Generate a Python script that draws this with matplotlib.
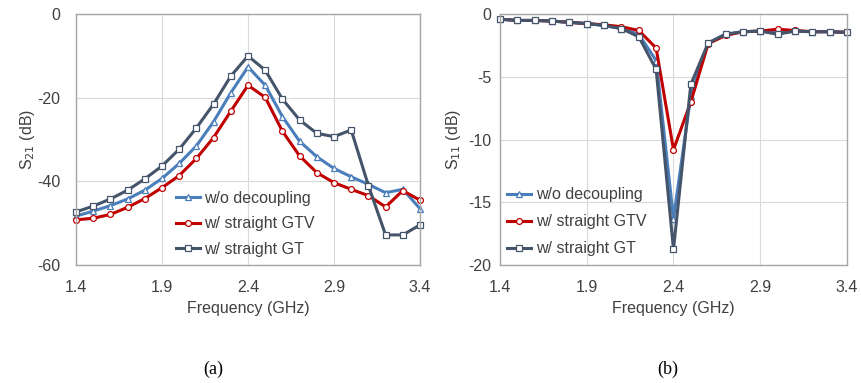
import matplotlib
matplotlib.use("Agg")
from matplotlib import pyplot as plt

plt.rcParams['font.family'] = ['Liberation Sans', 'DejaVu Sans']
plt.rcParams['axes.unicode_minus'] = False

freq = [1.4, 1.5, 1.6, 1.7, 1.8, 1.9, 2.0, 2.1, 2.2, 2.3, 2.4,
        2.5, 2.6, 2.7, 2.8, 2.9, 3.0, 3.1, 3.2, 3.3, 3.4]

# S21 (dB)
s21_wo = [-48.3, -47.1, -45.8, -44.2, -42.1, -39.3, -35.7, -31.5, -25.7, -18.8, -12.6,
          -17.0, -24.5, -30.4, -34.1, -36.9, -38.9, -40.7, -42.7, -41.9, -46.5]
s21_gtv = [-49.2, -48.8, -47.9, -46.2, -44.1, -41.5, -38.6, -34.5, -29.5, -23.2, -17.0,
           -19.9, -28.0, -33.9, -37.9, -40.3, -41.9, -43.4, -46.1, -42.2, -44.5]
s21_gt = [-47.3, -45.9, -44.2, -42.1, -39.4, -36.3, -32.3, -27.2, -21.5, -14.8, -10.0,
          -13.4, -20.3, -25.3, -28.5, -29.3, -27.7, -41.0, -52.8, -52.8, -50.4]

# S11 (dB)
s11_wo = [-0.4, -0.5, -0.5, -0.55, -0.65, -0.75, -0.9, -1.15, -1.6, -3.7, -16.3,
          -6.5, -2.3, -1.6, -1.4, -1.35, -1.5, -1.35, -1.4, -1.4, -1.45]
s11_gtv = [-0.4, -0.5, -0.5, -0.55, -0.65, -0.75, -0.85, -1.0, -1.3, -2.7, -10.8,
           -7.0, -2.35, -1.7, -1.4, -1.35, -1.2, -1.3, -1.4, -1.4, -1.45]
s11_gt = [-0.4, -0.5, -0.5, -0.55, -0.65, -0.75, -0.9, -1.15, -1.8, -4.4, -18.75,
          -5.6, -2.3, -1.6, -1.4, -1.35, -1.6, -1.35, -1.4, -1.4, -1.45]

labels = ['w/o decoupling', 'w/ straight GTV', 'w/ straight GT']
colors = ['#4a7ebb', '#c00000', '#44546a']
markers = ['^', 'o', 's']

fig = plt.figure(figsize=(8.61, 3.83), dpi=100)
ax1 = fig.add_axes([0.0883, 0.308, 0.3995, 0.655])
ax2 = fig.add_axes([0.5807, 0.308, 0.403, 0.655])


def draw(ax, series, ylim, ystep, ylabel, legend_pos, ypad, ylpad, lspace):
    for y, lab, c, m in zip(series, labels, colors, markers):
        ax.plot(freq, y, color=c, lw=2.2, marker=m, ms=4.2, mfc='white',
                mec=c, mew=0.9, label=lab, clip_on=False)
    ax.set_xlim(1.4, 3.4)
    ax.set_ylim(*ylim)
    ax.set_xticks([1.4, 1.9, 2.4, 2.9, 3.4])
    ax.set_xticklabels(['1.4', '1.9', '2.4', '2.9', '3.4'])
    ticks = list(range(ylim[0], ylim[1] + 1, ystep))
    ax.set_yticks(ticks)
    ax.grid(color='#d9d9d9', lw=0.8)
    ax.set_axisbelow(True)
    for sp in ax.spines.values():
        sp.set_color('#a6a6a6')
        sp.set_linewidth(1.0)
    ax.tick_params(axis='x', length=0, pad=11, labelsize=11.5, colors='#404040')
    ax.tick_params(axis='y', length=0, pad=ypad, labelsize=11.5, colors='#404040')
    ax.set_xlabel('Frequency (GHz)', fontsize=11.5, color='#404040', labelpad=4)
    ax.set_ylabel(ylabel, fontsize=11.5, color='#404040', labelpad=ylpad)
    ax.legend(loc='upper left', bbox_to_anchor=legend_pos, frameon=False,
              fontsize=11.5, handlelength=1.5, handletextpad=0.3,
              borderpad=0, borderaxespad=0, labelspacing=lspace,
              labelcolor='#404040')


draw(ax1, [s21_wo, s21_gtv, s21_gt], (-60, 0), 20, 'S$_{21}$ (dB)', (0.29, 0.295), 11, 0, 0.65)
draw(ax2, [s11_wo, s11_gtv, s11_gt], (-20, 0), 5, 'S$_{11}$ (dB)', (0.02, 0.31), 6, 4, 0.75)

fig.text(213 / 861, 1 - 369 / 383, '(a)', family='Liberation Serif', fontsize=13,
         ha='center', va='center')
fig.text(668 / 861, 1 - 369 / 383, '(b)', family='Liberation Serif', fontsize=13,
         ha='center', va='center')

fig.savefig('out.png', dpi=100)
